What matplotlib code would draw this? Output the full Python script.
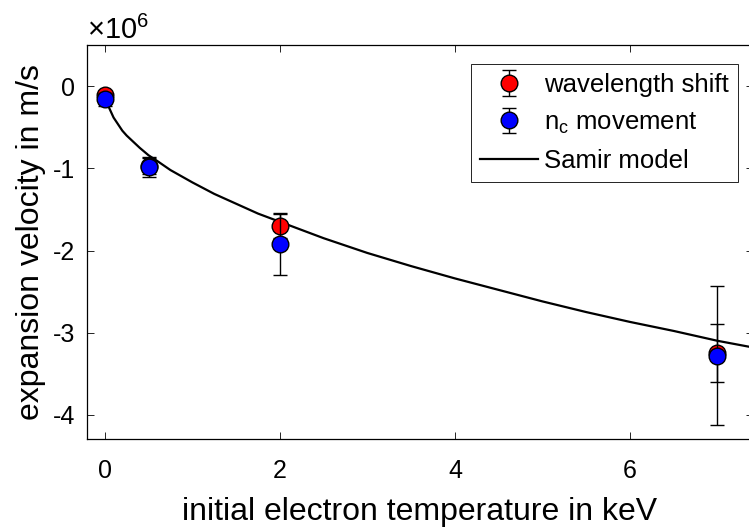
import numpy as np
import matplotlib
matplotlib.use("Agg")
import matplotlib.pyplot as plt

plt.rcParams['font.family'] = ['Liberation Sans', 'DejaVu Sans']
plt.rcParams['mathtext.fontset'] = 'custom'
plt.rcParams['mathtext.rm'] = 'Liberation Sans'
plt.rcParams['mathtext.it'] = 'Liberation Sans'
plt.rcParams['axes.unicode_minus'] = False

# measured expansion velocities (m/s) vs initial electron temperature (keV)
temp_shift = [0.0, 0.5, 2.0, 7.0]
vel_shift = [-0.11e6, -0.97e6, -1.70e6, -3.25e6]
err_shift = [0.05e6, 0.10e6, 0.15e6, 0.35e6]

temp_nc = [0.0, 0.5, 2.0, 7.0]
vel_nc = [-0.16e6, -0.98e6, -1.92e6, -3.28e6]
err_nc = [0.08e6, 0.12e6, 0.38e6, 0.85e6]

# Samir model curve
temp_model = [0.02, 0.04, 0.07, 0.1, 0.15, 0.2, 0.25, 0.3, 0.4, 0.5, 0.6,
              0.75, 0.9, 1.0, 1.25, 1.5, 1.75, 2.0, 2.5, 3.0, 3.5, 4.0,
              4.5, 5.0, 5.5, 6.0, 6.5, 7.0, 7.4]
vel_model = [-0.17e6, -0.24e6, -0.31e6, -0.38e6, -0.46e6, -0.54e6, -0.60e6,
             -0.65e6, -0.75e6, -0.84e6, -0.91e6, -1.02e6, -1.11e6, -1.17e6,
             -1.31e6, -1.43e6, -1.55e6, -1.65e6, -1.85e6, -2.03e6, -2.19e6,
             -2.34e6, -2.48e6, -2.62e6, -2.75e6, -2.87e6, -2.98e6, -3.10e6,
             -3.18e6]

fig = plt.figure(figsize=(7.49, 5.27), dpi=100)
ax = fig.add_axes([87.3 / 749, 1 - 439.3 / 527, (752.5 - 87.3) / 749, (439.3 - 45.3) / 527])

ax.plot(temp_model, vel_model, color='black', lw=1.6, label='Samir model', zorder=2)
ax.errorbar(temp_shift, vel_shift, yerr=err_shift, fmt='o', color='black',
            mfc='red', mec='black', ms=12, mew=1.0, elinewidth=1.0,
            capsize=4.8, capthick=1.0, label='wavelength shift', zorder=3)
ax.errorbar(temp_nc, vel_nc, yerr=err_nc, fmt='o', color='black',
            mfc='blue', mec='black', ms=12, mew=1.0, elinewidth=1.0,
            capsize=4.8, capthick=1.0, label=r'n$_\mathregular{c}$ movement', zorder=4)

ax.set_xlim(-0.2, 7.4)
ax.set_ylim(-4.3e6, 0.5e6)
ax.set_xticks([0, 2, 4, 6])
ax.set_yticks([-4e6, -3e6, -2e6, -1e6, 0])
ax.set_yticklabels(['-4', '-3', '-2', '-1', '0'])
ax.tick_params(direction='in', top=True, right=True, length=5, width=0.6,
               labelsize=18)
ax.tick_params(axis='x', pad=14)
ax.tick_params(axis='y', pad=8.5)
for s in ax.spines.values():
    s.set_linewidth(0.9)

ax.set_xlabel('initial electron temperature in keV', fontsize=23, labelpad=10)
ax.set_ylabel('expansion velocity in m/s', fontsize=23, labelpad=5)
fig.text(87 / 749, 1 - 39 / 527, r'$\times\mathregular{10}^\mathregular{6}$',
         fontsize=21, ha='left', va='baseline')

handles, labels = ax.get_legend_handles_labels()
order = [1, 2, 0]
leg = ax.legend([handles[i] for i in order], [labels[i] for i in order],
                loc='upper right', bbox_to_anchor=(738 / 749, 1 - 64 / 527),
                bbox_transform=fig.transFigure, fontsize=18.5, fancybox=False,
                framealpha=1, edgecolor='black', borderpad=0.35,
                handlelength=2.25, handletextpad=0.25, labelspacing=0.52,
                borderaxespad=0)
leg.get_frame().set_linewidth(0.6)

fig.savefig('out.png', dpi=100)
